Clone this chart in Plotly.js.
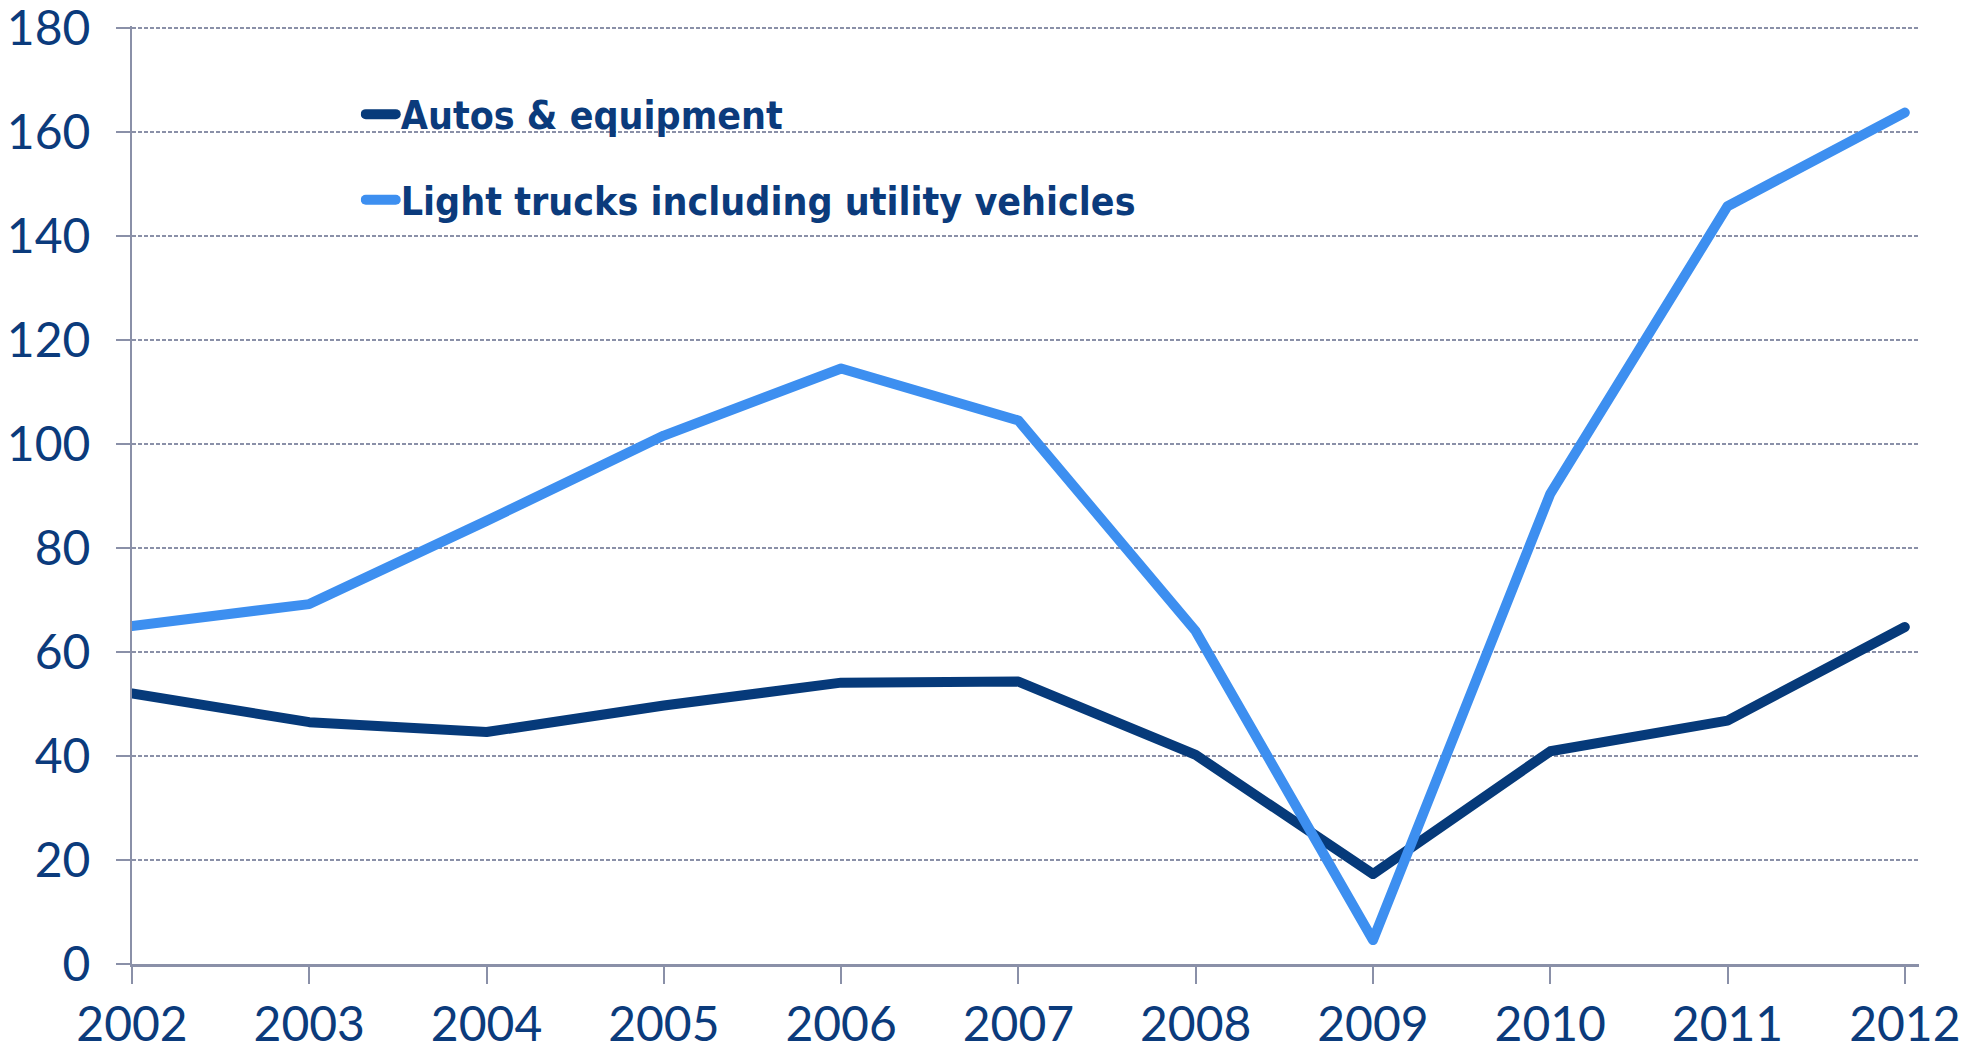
<!DOCTYPE html>
<html>
<head>
<meta charset="utf-8">
<script src="https://cdn.plot.ly/plotly-3.0.1.min.js"></script>
<style>
  html, body { margin: 0; padding: 0; background: #fff; }
  #chart { width: 1986px; height: 1044px; }
  /* rounded line ends like the original */
  .js-line, .legendlines path { stroke-linecap: round; stroke-linejoin: round; }
</style>
</head>
<body>
<div id="chart"></div>
<script>
// Years on the x axis
const years = [2002, 2003, 2004, 2005, 2006, 2007, 2008, 2009, 2010, 2011, 2012];

// Series values
const autos = [52, 46.5, 44.6, 49.7, 54.1, 54.3, 40.2, 17.3, 40.9, 46.8, 64.8];
const lightTrucks = [65, 69.2, 85.2, 101.6, 114.5, 104.5, 64, 4.6, 90.4, 145.7, 163.7];

const seriesNames = ['Autos & equipment', 'Light trucks including utility vehicles'];

const navy = '#063a7a';
const blue = '#3d8ff0';
const axisGrey = '#8a90a8';
const labelFont = { family: 'Lato, "Open Sans", sans-serif', size: 48, color: '#0b3b7c' };

const data = [
    {
        x: years, y: autos, name: seriesNames[0],
        type: 'scatter', mode: 'lines', legendgroup: 'a',
        line: { color: navy, width: 10 }, cliponaxis: false
    },
    {
        x: years, y: lightTrucks, name: seriesNames[1],
        type: 'scatter', mode: 'lines', legendgroup: 'b',
        line: { color: blue, width: 10 }, cliponaxis: false
    }
];

const layout = {
    width: 1986,
    height: 1044,
    margin: { l: 132, r: 67, t: 26, b: 80 },
    paper_bgcolor: '#fff',
    plot_bgcolor: '#fff',
    showlegend: true,
    legend: {
        x: 0.128, y: 0.94, xanchor: 'left', yanchor: 'top',
        traceorder: 'grouped', tracegroupgap: 32,
        font: { family: '"Liberation Sans Narrow", "DejaVu Sans Condensed", sans-serif', size: 39, color: '#0b3b7c', weight: 'bold' },
        bgcolor: 'rgba(0,0,0,0)'
    },
    xaxis: {
        range: [2002, 2012.08],
        tickvals: years,
        ticks: 'outside', ticklen: 17, tickwidth: 2, tickcolor: axisGrey,
        showline: true, linecolor: axisGrey, linewidth: 2.5,
        showgrid: false, zeroline: false,
        tickfont: labelFont,
        ticklabelstandoff: 0,
        ticklabeloverflow: 'allow',
        fixedrange: true
    },
    yaxis: {
        range: [0, 180.35],
        tickvals: [0, 20, 40, 60, 80, 100, 120, 140, 160, 180],
        ticks: 'outside', ticklen: 14, tickwidth: 2, tickcolor: axisGrey,
        showline: true, linecolor: axisGrey, linewidth: 2,
        showgrid: true, gridcolor: axisGrey, gridwidth: 1.5, griddash: '4px,2px',
        zeroline: false,
        tickfont: labelFont,
        ticklabelstandoff: 16,
        ticklabeloverflow: 'allow',
        fixedrange: true
    }
};

Plotly.newPlot('chart', data, layout, { displayModeBar: false, staticPlot: true });
</script>
</body>
</html>
